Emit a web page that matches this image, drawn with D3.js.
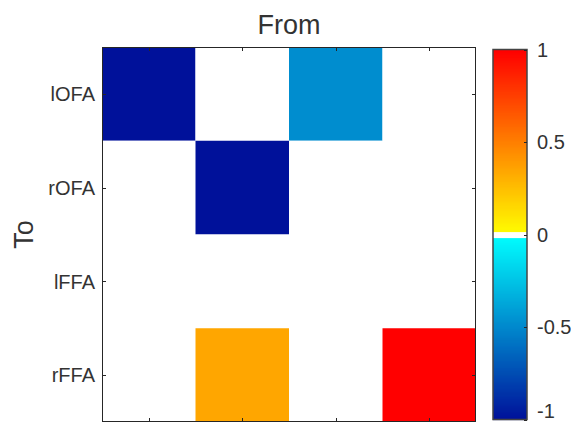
<!DOCTYPE html>
<html><head><meta charset="utf-8">
<script src="https://cdn.jsdelivr.net/npm/d3@7/dist/d3.min.js"></script>
<style>body{margin:0;background:#fff}svg{display:block}text{font-family:"Liberation Sans",Arial,sans-serif;fill:#333333}</style>
</head><body>
<script>
const regions = ["lOFA","rOFA","lFFA","rFFA"];
// rows = "To", columns = "From"; 0 = no connection (white)
const rowLOFA = [-1, 0, -0.48, 0];
const rowROFA = [0, -1, 0, 0];
const rowLFFA = [0, 0, 0, 0];
const rowRFFA = [0, 0.35, 0, 1];
const matrix = [rowLOFA, rowROFA, rowLFFA, rowRFFA];
const cbTicks = [1, 0.5, 0, -0.5, -1];
const cbTickLabels = ["1","0.5","0","-0.5","-1"];

const W = 571, H = 426;
const svg = d3.select("body").append("svg").attr("width", W).attr("height", H);
const P = {l:102, r:476, t:47, b:422};
const x = d3.scaleBand().domain(regions).range([P.l, P.r]);
const y = d3.scaleBand().domain(regions).range([P.t, P.b]);

const neg = d3.scaleLinear().domain([-1,0]).range(["#00119a","#00ffff"]);
const pos = d3.scaleLinear().domain([0,1]).range(["#ffff00","#ff0000"]);
const color = v => (Math.abs(v) < 0.015 ? "#ffffff" : (v < 0 ? neg(v) : pos(v)));

const cells = [];
matrix.forEach((row, i) => row.forEach((v, j) => cells.push({to: regions[i], from: regions[j], v})));
svg.append("g").selectAll("rect").data(cells).join("rect")
  .attr("x", d => x(d.from)).attr("y", d => y(d.to))
  .attr("width", x.bandwidth()).attr("height", y.bandwidth())
  .attr("fill", d => color(d.v));

const ax = "#262626", tl = 4;
const g = svg.append("g").attr("stroke", ax).attr("stroke-width", 1).attr("fill", "none");
g.append("rect").attr("x", P.l + 0.5).attr("y", P.t + 0.5).attr("width", P.r - P.l - 1).attr("height", P.b - P.t - 1);
regions.forEach(r => {
  const cx = Math.round(x(r) + x.bandwidth()/2) + 0.5;
  const cy = Math.round(y(r) + y.bandwidth()/2) + 0.5;
  g.append("line").attr("x1", cx).attr("x2", cx).attr("y1", P.b).attr("y2", P.b - tl);
  g.append("line").attr("x1", cx).attr("x2", cx).attr("y1", P.t).attr("y2", P.t + tl);
  g.append("line").attr("y1", cy).attr("y2", cy).attr("x1", P.l).attr("x2", P.l + tl);
  g.append("line").attr("y1", cy).attr("y2", cy).attr("x1", P.r).attr("x2", P.r - tl);
});
svg.append("g").selectAll("text").data(regions).join("text")
  .attr("x", P.l - 7).attr("y", d => y(d) + y.bandwidth()/2).attr("dy", "0.36em")
  .attr("text-anchor", "end").attr("font-size", 20).text(d => d);

svg.append("text").attr("x", (P.l + P.r)/2).attr("y", 34).attr("text-anchor", "middle")
  .attr("font-size", 27).text("From");
svg.append("text").attr("transform", `translate(33,${(P.t+P.b)/2}) rotate(-90)`)
  .attr("text-anchor", "middle").attr("font-size", 27).text("To");

// colorbar
const C = {l:493, r:527, t:49.5, b:419.5};
const cy = d3.scaleLinear().domain([-1, 1]).range([C.b, C.t]);
const steps = d3.range(-1, 1, 2/370);
svg.append("g").selectAll("rect").data(steps).join("rect")
  .attr("x", C.l).attr("width", C.r - C.l)
  .attr("y", d => cy(d + 2/370)).attr("height", d => cy(d) - cy(d + 2/370) + 0.6)
  .attr("fill", d => color(d + 1/370));
svg.append("rect").attr("x", C.l).attr("y", C.t).attr("width", C.r - C.l).attr("height", C.b - C.t)
  .attr("fill", "none").attr("stroke", "#444").attr("stroke-width", 1.5);
const cg = svg.append("g");
cbTicks.forEach((t, i) => {
  cg.append("line").attr("x1", C.r).attr("x2", C.r - 3).attr("y1", Math.round(cy(t)) + 0.5).attr("y2", Math.round(cy(t)) + 0.5)
    .attr("stroke", ax);
  cg.append("text").attr("x", 537).attr("y", Math.min(cy(t), 411)).attr("dy", "0.36em").attr("font-size", 20).text(cbTickLabels[i]);
});
</script>
</body></html>
